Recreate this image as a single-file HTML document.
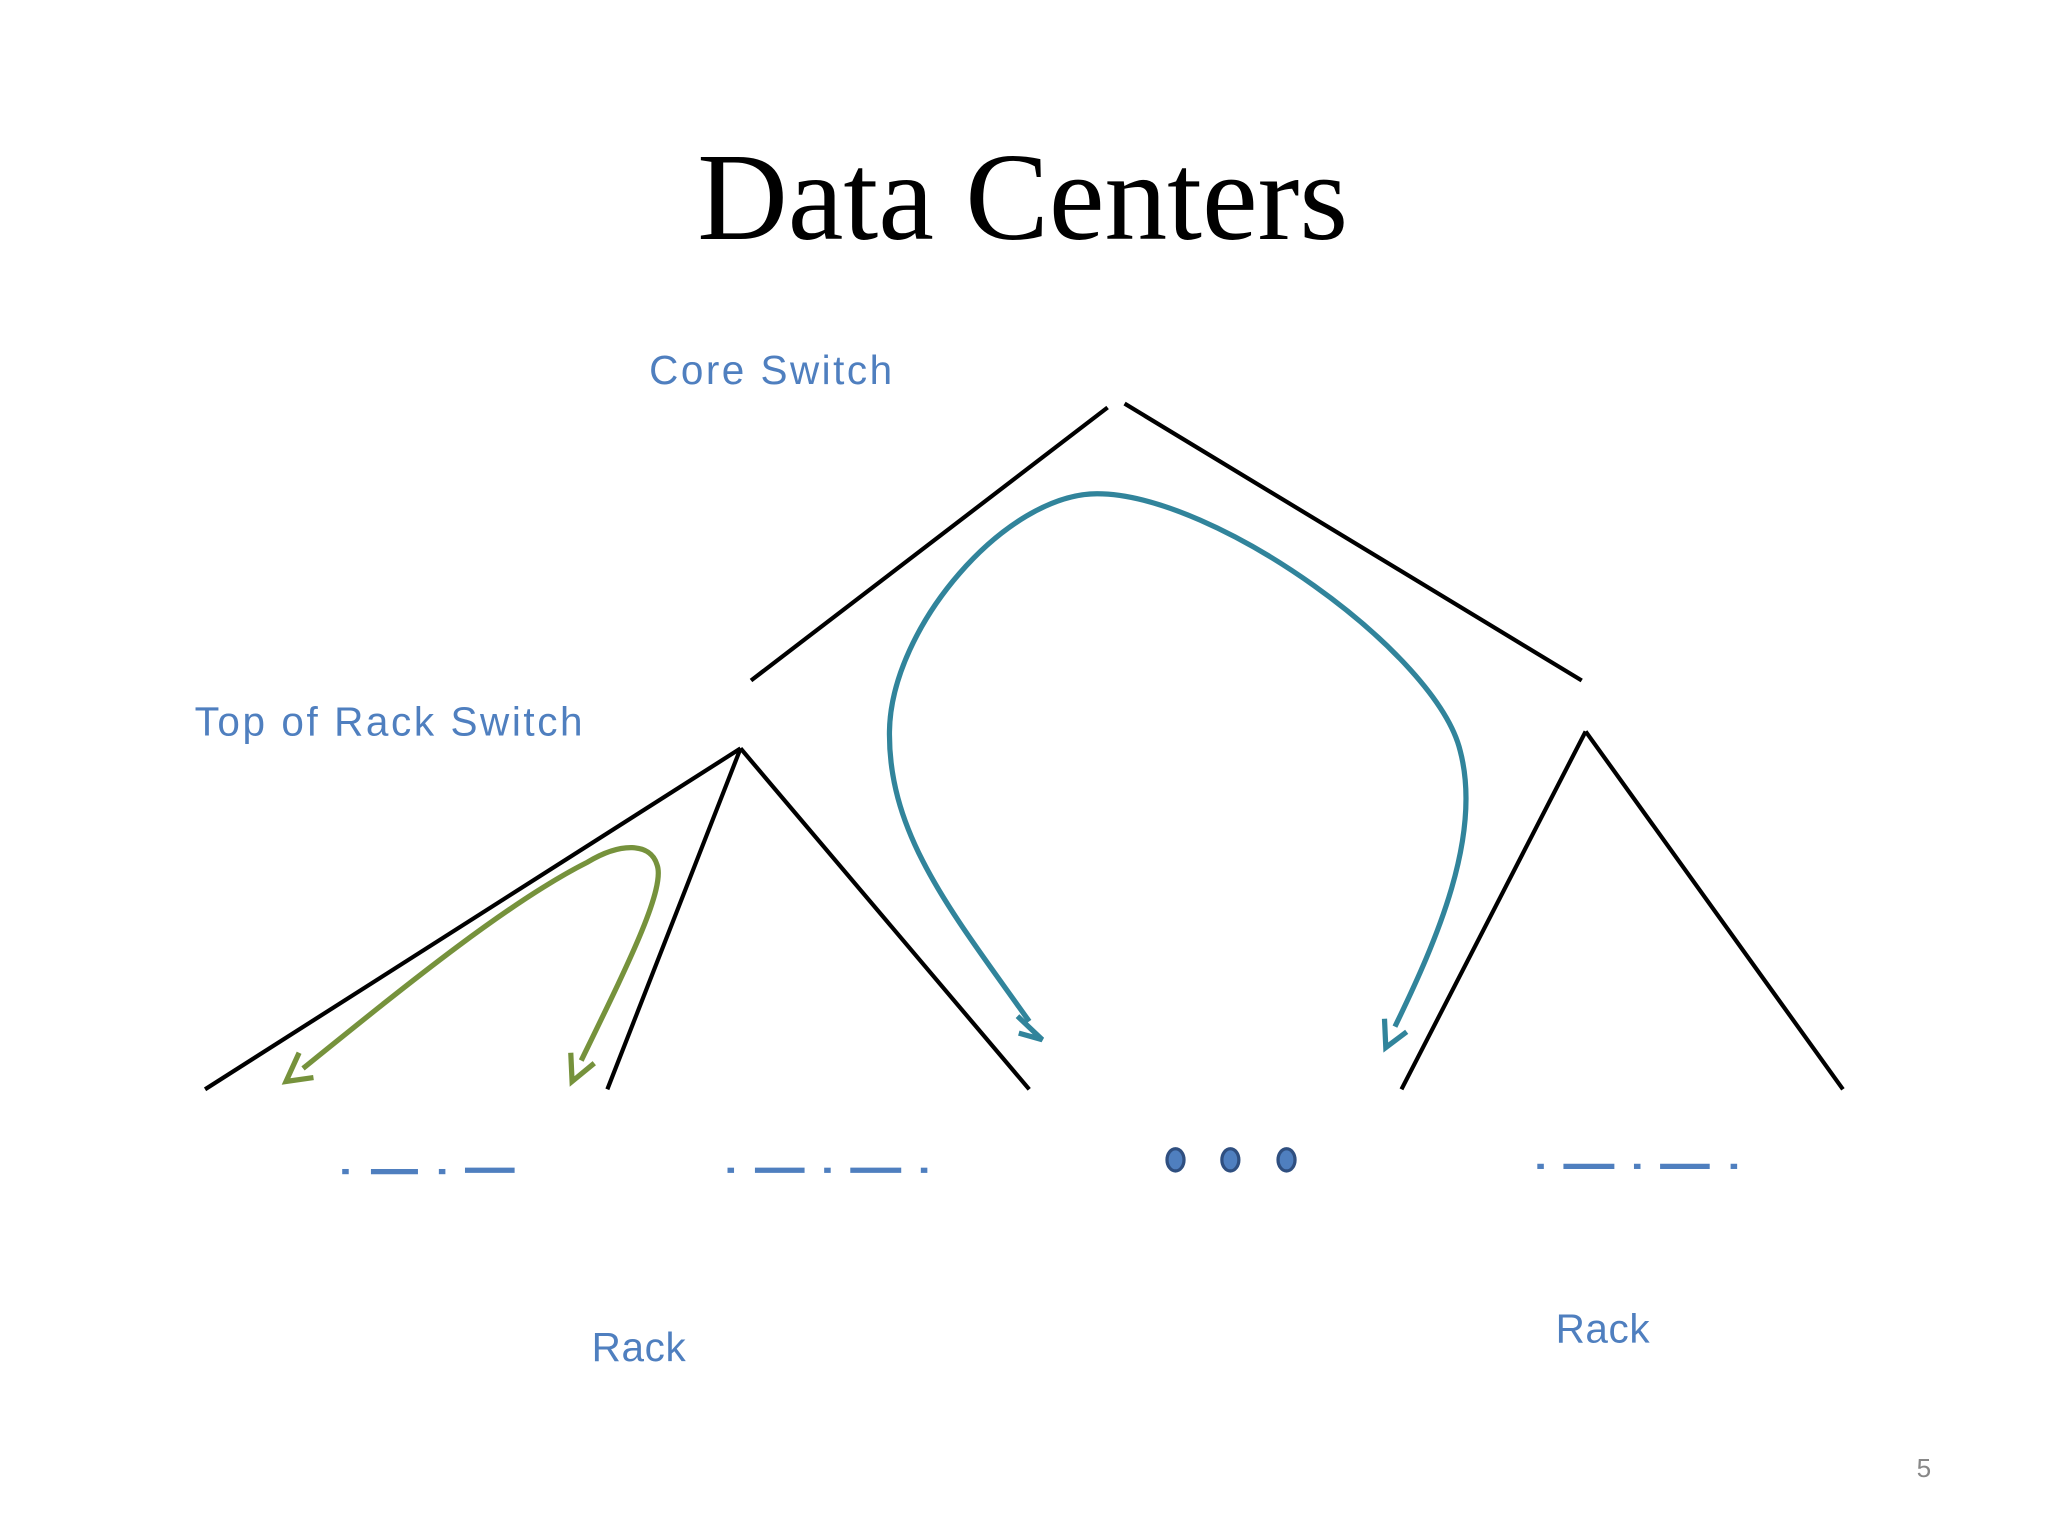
<!DOCTYPE html>
<html><head><meta charset="utf-8"><style>
html,body{margin:0;padding:0;background:#fff}
svg{display:block}
</style></head><body>
<svg width="2048" height="1536" viewBox="0 0 1568 1176" xmlns="http://www.w3.org/2000/svg">
<rect width="1568" height="1176" fill="#fff"/>
<text x="783" y="183" text-anchor="middle" font-family="Liberation Serif, serif" font-size="96" fill="#000">Data Centers</text>
<g font-family="Liberation Sans, sans-serif" fill="#4f7fbf" font-size="31">
<text x="497" y="294" textLength="186">Core Switch</text>
<text x="149" y="563" textLength="297">Top of Rack Switch</text>
<text x="453" y="1042" textLength="72">Rack</text>
<text x="1191" y="1028" textLength="72">Rack</text>
</g>
<text x="1473" y="1131" text-anchor="middle" font-family="Liberation Sans, sans-serif" font-size="20" fill="#888">5</text>
<g stroke="#000" stroke-width="3.2" fill="none">
<line x1="848" y1="312" x2="575" y2="521"/>
<line x1="861" y1="309" x2="1211" y2="521"/>
<line x1="567" y1="573" x2="157" y2="834"/>
<line x1="567" y1="573" x2="465" y2="834"/>
<line x1="567" y1="573" x2="788" y2="834"/>
<line x1="1214" y1="560" x2="1073" y2="834"/>
<line x1="1214" y1="560" x2="1411" y2="834"/>
</g>
<g stroke="#76923c" stroke-width="4" fill="none">
<path d="M445 812 C480 740 510 680 503 662 C498 645 475 645 450 660 C390 690 310 755 232 818"/>
<path d="M437 806 L438 828 L455 814"/>
<path d="M229 806 L219 828 L240 825"/>
</g>
<g stroke="#31849b" stroke-width="4" fill="none">
<path d="M788 782 C730 700 680 640 681 560 C682 480 770 378 840 378 C930 378 1100 500 1118 575 C1135 640 1100 720 1068 786"/>
<path d="M779 778 L798 796 L780 791"/>
<path d="M1060 780 L1061 802 L1077 790"/>
</g>
<g stroke="#4f7fbf" stroke-width="4">
<line x1="262" y1="897" x2="267" y2="897"/><line x1="284" y1="897" x2="320" y2="897"/><line x1="336" y1="897" x2="341" y2="897"/><line x1="356" y1="896" x2="394" y2="896"/>
<line x1="557" y1="896" x2="562" y2="896"/><line x1="578" y1="896" x2="616" y2="896"/><line x1="631" y1="896" x2="636" y2="896"/><line x1="651" y1="896" x2="690" y2="896"/><line x1="705" y1="896" x2="710" y2="896"/>
<line x1="1177" y1="893" x2="1182" y2="893"/><line x1="1197" y1="893" x2="1236" y2="893"/><line x1="1251" y1="893" x2="1256" y2="893"/><line x1="1271" y1="893" x2="1309" y2="893"/><line x1="1325" y1="893" x2="1330" y2="893"/>
</g>
<g fill="#4f7fbf" stroke="#2f4f80" stroke-width="2.5">
<ellipse cx="900" cy="888" rx="6.5" ry="8.5"/>
<ellipse cx="942" cy="888" rx="6.5" ry="8.5"/>
<ellipse cx="985" cy="888" rx="6.5" ry="8.5"/>
</g>
</svg>
</body></html>
